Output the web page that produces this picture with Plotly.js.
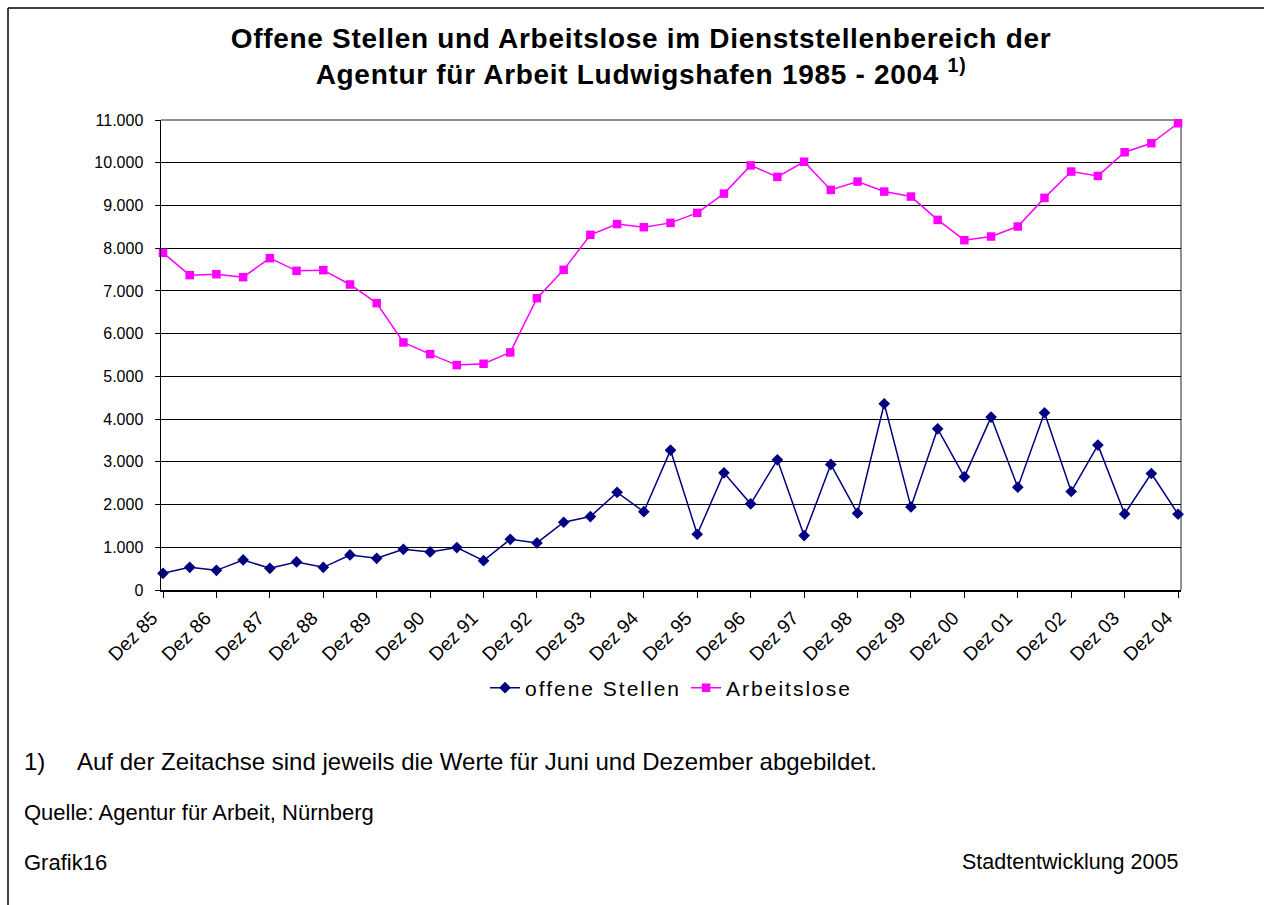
<!DOCTYPE html>
<html>
<head>
<meta charset="utf-8">
<script src="https://cdn.plot.ly/plotly-3.0.1.min.js"></script>
<style>
  html, body { margin: 0; padding: 0; background: #fff; }
  #chart { width: 1264px; height: 905px; }
  .legendtext { letter-spacing: 2px; }
  .gtitle { letter-spacing: 0.7px; }
</style>
</head>
<body>
<div id="chart"></div>
<script>
// Categories: half-year points (June and December), 1985-2004
const categories = [
  "Dez 85","Jun 86","Dez 86","Jun 87","Dez 87","Jun 88","Dez 88","Jun 89","Dez 89","Jun 90",
  "Dez 90","Jun 91","Dez 91","Jun 92","Dez 92","Jun 93","Dez 93","Jun 94","Dez 94","Jun 95",
  "Dez 95","Jun 96","Dez 96","Jun 97","Dez 97","Jun 98","Dez 98","Jun 99","Dez 99","Jun 00",
  "Dez 00","Jun 01","Dez 01","Jun 02","Dez 02","Jun 03","Dez 03","Jun 04","Dez 04"
];

const offeneStellen = [
  390, 530, 460, 703, 508, 656, 531, 820, 742, 953,
  890, 992, 687, 1187, 1101, 1586, 1719, 2285, 1832, 3273,
  1305, 2742, 2016, 3047, 1273, 2938, 1797, 4359, 1945, 3773,
  2648, 4047, 2406, 4148, 2305, 3391, 1781, 2727, 1773
];

const arbeitslose = [
  7891, 7369, 7392, 7322, 7766, 7470, 7486, 7150, 6714, 5794,
  5521, 5264, 5295, 5560, 6831, 7493, 8312, 8565, 8491, 8592,
  8826, 9278, 9938, 9668, 10023, 9364, 9559, 9325, 9208, 8662,
  8187, 8273, 8507, 9177, 9793, 9691, 10245, 10456, 10924
];

const tickLabels = [
  "Dez 85","Dez 86","Dez 87","Dez 88","Dez 89","Dez 90","Dez 91","Dez 92","Dez 93","Dez 94",
  "Dez 95","Dez 96","Dez 97","Dez 98","Dez 99","Dez 00","Dez 01","Dez 02","Dez 03","Dez 04"
];

const seriesNames = ["offene Stellen", "Arbeitslose"];

const titleText = "Offene Stellen und Arbeitslose im Dienststellenbereich der<br>Agentur für Arbeit Ludwigshafen 1985 - 2004 <sup>1)</sup>";
const footnoteMark = "1)";
const footnoteText = "Auf der Zeitachse sind jeweils die Werte für Juni und Dezember abgebildet.";
const sourceText = "Quelle: Agentur für Arbeit, Nürnberg";
const graphicId = "Grafik16";
const creditText = "Stadtentwicklung 2005";

const FONT = "Liberation Sans, Arial, sans-serif";

// layout geometry (pixels)
const W = 1264, H = 905;
const L = 161, R = 1181, T = 120, B = 590;
const pw = R - L, ph = B - T;
const px = x => (x - L) / pw;
const py = y => (B - y) / ph;

const traces = [
  {
    x: categories, y: offeneStellen, name: seriesNames[0],
    type: "scatter", mode: "lines+markers",
    line: { color: "#000080", width: 1.5 },
    marker: { symbol: "diamond", size: 9, color: "#000080" },
    cliponaxis: false
  },
  {
    x: categories, y: arbeitslose, name: seriesNames[1],
    type: "scatter", mode: "lines+markers",
    line: { color: "#FF00FF", width: 1.5 },
    marker: { symbol: "square", size: 8.5, color: "#FF00FF" },
    cliponaxis: false
  }
];

const annText = (text, x, y, size, anchor) => ({
  text: text, xref: "paper", yref: "paper", x: px(x), y: py(y),
  xanchor: anchor || "left", yanchor: "middle", showarrow: false,
  font: { family: FONT, size: size, color: "#000" }
});

const layout = {
  width: W, height: H,
  margin: { l: L, r: W - R, t: T, b: H - B, pad: 0 },
  paper_bgcolor: "#fff", plot_bgcolor: "#fff",
  separators: ",.",
  showlegend: true,
  title: {
    text: titleText,
    font: { family: FONT, size: 28, color: "#000", weight: "bold" },
    x: 641 / W, xanchor: "center", xref: "container",
    y: 1 - 47.5 / H, yanchor: "top", yref: "container"
  },
  xaxis: {
    type: "category",
    range: [-0.075, 38.11],
    tickmode: "array",
    tickvals: tickLabels,
    ticktext: tickLabels,
    tickangle: -45,
    ticks: "outside", ticklen: 6, tickwidth: 1, tickcolor: "#000",
    tickfont: { family: FONT, size: 19, color: "#000" },
    ticklabelshift: -11,
    ticklabelstandoff: 2,
    showgrid: false, zeroline: false,
    showline: true, linecolor: "#000", linewidth: 1.5,
    fixedrange: true
  },
  yaxis: {
    range: [0, 11000],
    dtick: 1000, tick0: 0,
    tickformat: ",d",
    ticks: "outside", ticklen: 5, tickwidth: 1, tickcolor: "#000",
    tickfont: { family: FONT, size: 16, color: "#000" },
    showgrid: true, gridcolor: "#000", gridwidth: 1,
    zeroline: false,
    showline: true, linecolor: "#000", linewidth: 1.5,
    ticklabelstandoff: 8,
    fixedrange: true
  },
  legend: {
    orientation: "h",
    x: 0.5, xanchor: "center",
    y: py(688), yanchor: "middle",
    font: { family: FONT, size: 21, color: "#000" },
    bgcolor: "rgba(0,0,0,0)",
    itemwidth: 30,
    tracegroupgap: 0
  },
  shapes: [
    // plot area border (top & right), grey
    { type: "line", xref: "paper", yref: "paper", x0: 0, x1: 1, y0: 1, y1: 1,
      line: { color: "#909090", width: 2 }, layer: "below" },
    { type: "line", xref: "paper", yref: "paper", x0: 1, x1: 1, y0: 0, y1: 1,
      line: { color: "#909090", width: 2 }, layer: "below" },
    // outer frame (left & top)
    { type: "line", xref: "paper", yref: "paper", x0: px(8), x1: px(8), y0: py(8), y1: py(H + 5),
      line: { color: "#000", width: 1.5 } },
    { type: "line", xref: "paper", yref: "paper", x0: px(8), x1: px(W + 5), y0: py(8), y1: py(8),
      line: { color: "#000", width: 1.5 } }
  ],
  annotations: [
    annText(footnoteMark, 22, 761, 24),
    annText(footnoteText, 75, 761, 24),
    annText(sourceText, 22, 812, 22),
    annText(graphicId, 22, 862, 22),
    annText(creditText, 1180, 862, 21.5, "right")
  ]
};

Plotly.newPlot("chart", traces, layout, { displayModeBar: false, staticPlot: true });
</script>
</body>
</html>
